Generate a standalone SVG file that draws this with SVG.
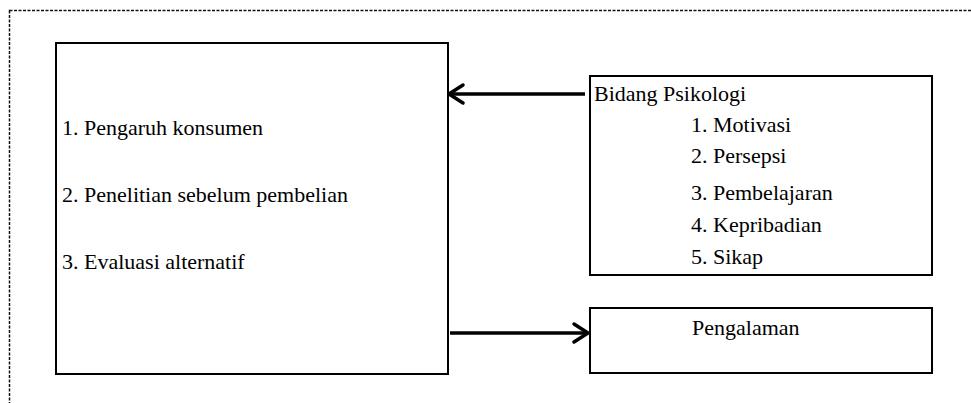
<svg xmlns="http://www.w3.org/2000/svg" width="971" height="403" viewBox="0 0 971 403">
  <style>
    .frame { fill: none; stroke: #111; stroke-width: 1.5; stroke-dasharray: 3 1.5; }
    .box { fill: #fff; stroke: #000; stroke-width: 2; }
    .label { font-size: 22px; fill: #000; }
    .link { stroke: #000; stroke-width: 3.5; fill: none; }
  </style>
  <defs>
    <marker id="chev" viewBox="0 0 18 20" refX="16" refY="10" markerWidth="18" markerHeight="20" markerUnits="userSpaceOnUse" orient="auto" overflow="visible">
      <path d="M2,1 L16,10 L2,19" fill="none" stroke="#000" stroke-width="3.5" stroke-linecap="round" stroke-linejoin="round"/>
    </marker>
  </defs>

  <rect width="971" height="403" fill="#fff"/>

  <!-- outer dashed frame, runs past the right and bottom edges -->
  <rect class="frame" x="9.5" y="10.5" width="1000" height="500"/>

  <g id="keputusan">
    <rect class="box" x="56" y="43" width="392" height="331"/>
    <text class="label" style="font-family:'Liberation Serif'" x="62" y="135">1. Pengaruh konsumen</text>
    <text class="label" style="font-family:'Liberation Serif'" x="62" y="202">2. Penelitian sebelum pembelian</text>
    <text class="label" style="font-family:'Liberation Serif'" x="62" y="269">3. Evaluasi alternatif</text>
  </g>

  <g id="psikologi">
    <rect class="box" x="590" y="76" width="342" height="199"/>
    <text class="label" style="font-family:'Liberation Serif'" x="594" y="101">Bidang Psikologi</text>
    <text class="label" style="font-family:'Liberation Serif'" x="691" y="132">1. Motivasi</text>
    <text class="label" style="font-family:'Liberation Serif'" x="691" y="163">2. Persepsi</text>
    <text class="label" style="font-family:'Liberation Serif'" x="691" y="200">3. Pembelajaran</text>
    <text class="label" style="font-family:'Liberation Serif'" x="691" y="232">4. Kepribadian</text>
    <text class="label" style="font-family:'Liberation Serif'" x="691" y="264">5. Sikap</text>
  </g>

  <g id="pengalaman">
    <rect class="box" x="590" y="308" width="342" height="65"/>
    <text class="label" style="font-family:'Liberation Serif'" x="692" y="335">Pengalaman</text>
  </g>

  <g id="connectors">
    <line class="link" x1="585" y1="94" x2="449" y2="94" marker-end="url(#chev)"/>
    <line class="link" x1="450" y1="333" x2="588" y2="333" marker-end="url(#chev)"/>
  </g>
</svg>
